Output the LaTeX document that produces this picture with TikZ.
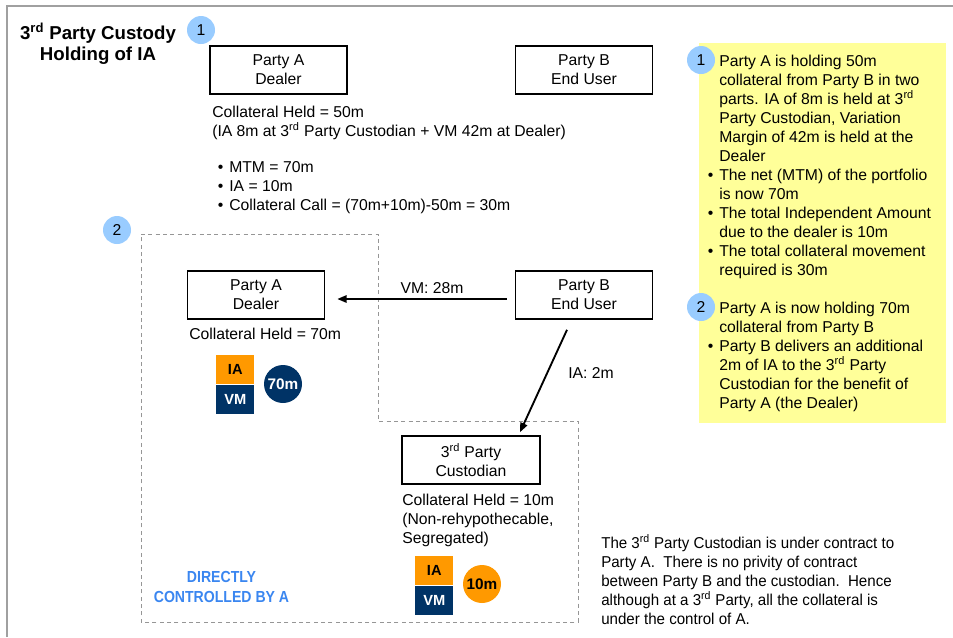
\documentclass[tikz,border=0pt]{standalone}
\usepackage{fontspec}
\setmainfont{Liberation Sans}
\newfontfamily\narrowsans[FakeStretch=0.88]{Liberation Sans}
\newfontfamily\notesans[FakeStretch=0.96]{Liberation Sans}
\usetikzlibrary{arrows.meta,calc}
\definecolor{numblue}{RGB}{153,204,255}
\definecolor{iaorange}{RGB}{255,153,0}
\definecolor{vmnavy}{RGB}{0,51,102}
\definecolor{noteyellow}{RGB}{255,255,153}
\definecolor{ctrlblue}{RGB}{58,134,240}
\definecolor{framegray}{RGB}{160,160,160}
\definecolor{dashgray}{RGB}{150,150,150}
\begin{document}
\begin{tikzpicture}[x=0.75pt,y=-0.75pt,
  every node/.style={font=\fontsize{11.8}{14.25}\selectfont, inner sep=0pt},
  partybox/.style={draw=black, line width=1.2pt, minimum width=102.75pt, minimum height=36pt, align=center},
  numcirc/.style={circle, fill=numblue, minimum size=21pt, font=\fontsize{11.8}{14}\selectfont},
  txt/.style={anchor=north west, align=left},
  arr/.style={line width=1.4pt, -{Triangle[length=7pt,width=5.5pt]}},
  region/.style={draw=dashgray, line width=0.75pt, dash pattern=on 3pt off 2.5pt},
  iabox/.style={fill=iaorange, text=black, minimum width=28.5pt, minimum height=21.75pt, font=\fontsize{11}{13}\selectfont\bfseries},
  vmbox/.style={fill=vmnavy, text=white, minimum width=28.5pt, minimum height=21.75pt, font=\fontsize{11}{13}\selectfont\bfseries},
  amtcirc/.style={circle, minimum size=28.5pt, font=\fontsize{11.5}{13}\selectfont\bfseries},
  bul/.style={},
]
\useasboundingbox (0,0) rectangle (953,637);
% frame
\draw[framegray, line width=1.2pt] (7,637) -- (7,6) -- (953,6);
% yellow note
\fill[noteyellow] (699,43) rectangle (946,423);
% dashed region
\draw[region] (141,234) -- (378,234) -- (378,421) -- (578,421) -- (578,622) -- (141,622) -- cycle;
% title
\node[anchor=north, align=center, font=\fontsize{14}{15.75}\selectfont\bfseries] (title) at (98,23) {3\textsuperscript{rd} Party Custody\\Holding of IA};
% numbered circles
\node[numcirc] (n1) at (201,30) {1};
\node[numcirc] (n2) at (117,230) {2};
\node[numcirc] (n3) at (701,60) {1};
\node[numcirc] (n4) at (701,307) {2};
% boxes
\node[partybox] (pa1) at (278.5,70) {Party A\\Dealer};
\node[partybox] (pb1) at (584,70) {Party B\\End User};
\node[partybox] (pa2) at (256,295) {Party A\\Dealer};
\node[partybox] (pb2) at (584,295) {Party B\\End User};
\node[partybox, minimum width=103.5pt] (cust) at (471,460) {3\textsuperscript{rd} Party\\Custodian};
% texts, step 1
\node[txt] (coll1) at (212,105.4) {Collateral Held = 50m\\(IA 8m at 3\textsuperscript{rd} Party Custodian + VM 42m at Dealer)};
\node[txt] (calc1) at (229,161.4) {\llap{\textbullet\hspace{4.5pt}}MTM = 70m\\\llap{\textbullet\hspace{4.5pt}}IA = 10m\\\llap{\textbullet\hspace{4.5pt}}Collateral Call = (70m+10m)-50m = 30m};
% texts, step 2
\node[txt] (coll2) at (189,327.4) {Collateral Held = 70m};
\node[txt] (coll3) at (402,493.4) {Collateral Held = 10m\\(Non-rehypothecable,\\Segregated)};
\node[txt, font=\notesans\fontsize{11.8}{14.25}\selectfont] (note3) at (601,534.4) {The 3\textsuperscript{rd} Party Custodian is under contract to\\Party A.\ \ There is no privity of contract\\between Party B and the custodian.\ \ Hence\\although at a 3\textsuperscript{rd} Party, all the collateral is\\under the control of A.};
\node[align=center, font=\narrowsans\fontsize{12}{15}\selectfont\bfseries, text=ctrlblue] (ctrl) at (221.5,587) {DIRECTLY\\CONTROLLED BY A};
% IA / VM blocks
\node[iabox, anchor=north west] (ia1) at (216,355) {IA};
\node[vmbox, anchor=north] (vm1) at (ia1.south) {VM};
\node[amtcirc, fill=vmnavy, text=white] (c70) at (283,384) {70m};
\node[iabox, anchor=north west] (ia2) at (415,556) {IA};
\node[vmbox, anchor=north] (vm2) at (ia2.south) {VM};
\node[amtcirc, fill=iaorange, text=black] (c10) at (482,584) {10m};
% arrows
\draw[arr] ($(pb2.west)+(-8,4)$) -- ($(pa2.east)+(12,4)$);
\node (vml) at (432,288) {VM: 28m};
\draw[arr] ($(pb2.south)+(-17,10)$) -- ($(cust.north)+(49,-3)$);
\node[anchor=west] (ial) at (568,373) {IA: 2m};
% right-hand notes
\node[txt] (r1) at (719,54.4) {Party A is holding 50m\\collateral from Party B in two\\parts. IA of 8m is held at 3\textsuperscript{rd}\\Party Custodian, Variation\\Margin of 42m is held at the\\Dealer\\\llap{\textbullet\hspace{4.5pt}}The net (MTM) of the portfolio\\is now 70m\\\llap{\textbullet\hspace{4.5pt}}The total Independent Amount\\due to the dealer is 10m\\\llap{\textbullet\hspace{4.5pt}}The total collateral movement\\required is 30m};
\node[txt] (r2) at (719,301.4) {Party A is now holding 70m\\collateral from Party B\\\llap{\textbullet\hspace{4.5pt}}Party B delivers an additional\\2m of IA to the 3\textsuperscript{rd} Party\\Custodian for the benefit of\\Party A (the Dealer)};
\end{tikzpicture}
\end{document}
